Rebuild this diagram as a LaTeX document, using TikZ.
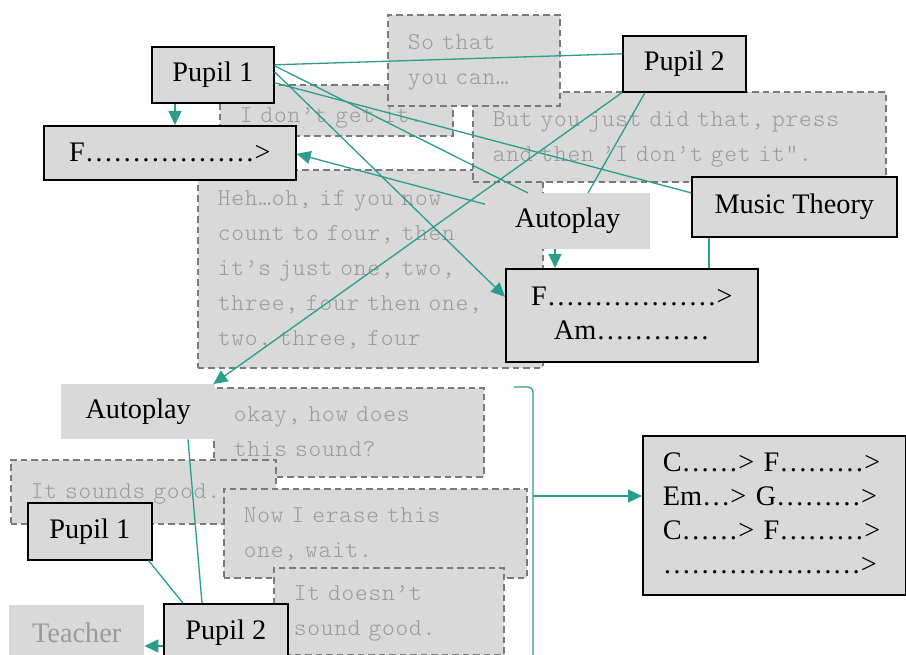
\documentclass[tikz,border=0pt]{standalone}
\usepackage{fontspec}
\setmainfont{Liberation Serif}
\newfontfamily\monofam[LetterSpace=3.3]{lmmonolt10-regular.otf}
\usetikzlibrary{arrows.meta}
\definecolor{boxgray}{HTML}{D9D9D9}
\definecolor{dashgray}{HTML}{7A7A7A}
\definecolor{monogray}{HTML}{9A9A9A}
\definecolor{linkteal}{HTML}{2A9D8F}
\newcommand\el{…}
\begin{document}
\begin{tikzpicture}[x=1pt,y=-1pt,
  serif/.style={font=\fontsize{28.3}{34}\selectfont},
  solidbox/.style={draw=black, line width=1.6pt, fill=boxgray, inner sep=0pt, serif},
  plainbox/.style={fill=boxgray, inner sep=0pt, serif},
  dashbox/.style={draw=dashgray, line width=1.7pt, dash pattern=on 6.5pt off 4pt,
    fill=boxgray, inner xsep=20pt, inner ysep=0pt, align=left, text=monogray,
    font=\monofam\fontsize{24.2}{35}\selectfont},
  link/.style={draw=linkteal, line width=1.3pt},
  arr/.style={link, -{Triangle[length=14pt,width=13pt]}},
]
\useasboundingbox (0,0) rectangle (906,655);
\clip (0,0) rectangle (906,655);

% ---------- upper episode ----------
\node[dashbox, anchor=north west, minimum height=198, text width=305] (heh) at (197,169)
  {\strut Heh…oh, if you now\\\strut count to four, then\\\strut it’s just one, two,\\\strut three, four then one,\\\strut two, three, four};
\node[dashbox, anchor=north west, minimum height=51, text width=193, text depth=1pt] (dont) at (219,84)
  {\strut I don’t get it.};
\node[dashbox, anchor=north west, minimum height=90, text width=373] (butyou) at (472,91)
  {\strut But you just did that, press\\\strut and then ’I don’t get it”.};
\node[dashbox, anchor=north west, minimum height=91, text width=132] (sothat) at (387,14)
  {\strut So that\\\strut you can…};
\node[solidbox, anchor=north west, minimum width=122, minimum height=56] (p1t) at (151,46) {Pupil 1};
\node[solidbox, anchor=north west, minimum width=252, minimum height=54] (fbox) at (43,125)
  {F\el\el\el\el\el\el>};
\node[solidbox, anchor=north west, minimum width=123, minimum height=56] (p2t) at (622,35) {Pupil 2};
\node[plainbox, anchor=north west, minimum width=165, minimum height=56] (apt) at (485,193) {Autoplay};
\node[solidbox, anchor=north west, minimum width=252, minimum height=93, text width=232,
  inner xsep=10pt, align=center] (fam) at (505,268)
  {\strut F\el\el\el\el\el\el>\\\strut Am\el\el\el\el};
\node[solidbox, anchor=north west, minimum width=205, minimum height=60] (mt) at (691,176) {Music Theory};

% ---------- lower episode ----------
\node[dashbox, anchor=north west, minimum height=89, text width=230] (okay) at (213,387)
  {\strut okay, how does\\\strut this sound?};
\node[plainbox, anchor=north west, minimum width=154, minimum height=55] (apb) at (61,384) {Autoplay};
\node[dashbox, anchor=north west, minimum height=64, text width=225] (good) at (10,459)
  {\strut It sounds good.};
\node[dashbox, anchor=north west, minimum height=89, text width=263] (erase) at (223,488)
  {\strut Now I erase this\\\strut one, wait.};
\node[dashbox, anchor=north west, minimum height=87, text width=190] (doesnt) at (273,567)
  {\strut It doesn’t\\\strut sound good.};
\node[solidbox, anchor=north west, minimum width=124, minimum height=57] (p1b) at (27,502) {Pupil 1};
\node[solidbox, anchor=north west, minimum width=124, minimum height=57] (p2b) at (163,603) {Pupil 2};
\node[plainbox, anchor=north west, minimum width=135, minimum height=55, text=monogray] (teacher) at (9,605) {Teacher};
\node[solidbox, anchor=north west, minimum width=262.5, minimum height=159, text width=222.5,
  inner xsep=20pt, align=left] (chord) at (642,435)
  {\strut C\el\el> F\el\el\el>\\\strut Em\el> G\el\el\el>\\\strut C\el\el> F\el\el\el>\\\strut \el\el\el\el\el\el\el>};

% ---------- connectors, upper ----------
\coordinate (p1drop) at ([xshift=24pt]p1t.south west);
\draw[arr] (p1drop) -- (p1drop |- fbox.north);
\draw[link] ([yshift=10pt]p1t.east) -- ([yshift=10pt]p2t.west);
\draw[link] ([yshift=9pt]p1t.east) -- ([xshift=43pt]apt.north west);
\draw[arr] ([yshift=3pt]p1t.east) -- ([yshift=18.5pt]fam.west);
\draw[link] ([yshift=-8pt]p1t.east) -- ([yshift=14pt]mt.west);
\draw[arr] ([yshift=17pt]apt.west) -- ([yshift=-1pt]fbox.east);
\coordinate (aptdrop) at ([xshift=70pt]apt.south west);
\draw[arr] (aptdrop) -- (aptdrop |- fam.north);
\draw[link] ([xshift=23pt]p2t.south west) -- ([xshift=103pt]apt.north west);
\draw[arr] (p2t.south west) -- ([xshift=-2pt]apb.north east);
\coordinate (mtdrop) at ([xshift=18pt]mt.south west);
\draw[link] (mtdrop) -- (mtdrop |- fam.north);

% ---------- connectors, lower ----------
\draw[link] ([xshift=-4pt]p1b.south east) -- ([xshift=20pt]p2b.north west);
\draw[link] ([xshift=127pt]apb.south west) -- ([xshift=39pt]p2b.north west);
\coordinate (p2left) at ([yshift=-43pt]p2b.north west);
\draw[arr] (p2left) -- (p2left -| teacher.east);

% bracket gathering the lower exchange
\coordinate (btop) at (514,387);
\coordinate (bmid) at (533,496);
\draw[link, rounded corners=5pt] (btop) -- (533,387) -- (533,662);
\draw[arr] (bmid) -- (bmid -| chord.west);
\end{tikzpicture}
\end{document}
